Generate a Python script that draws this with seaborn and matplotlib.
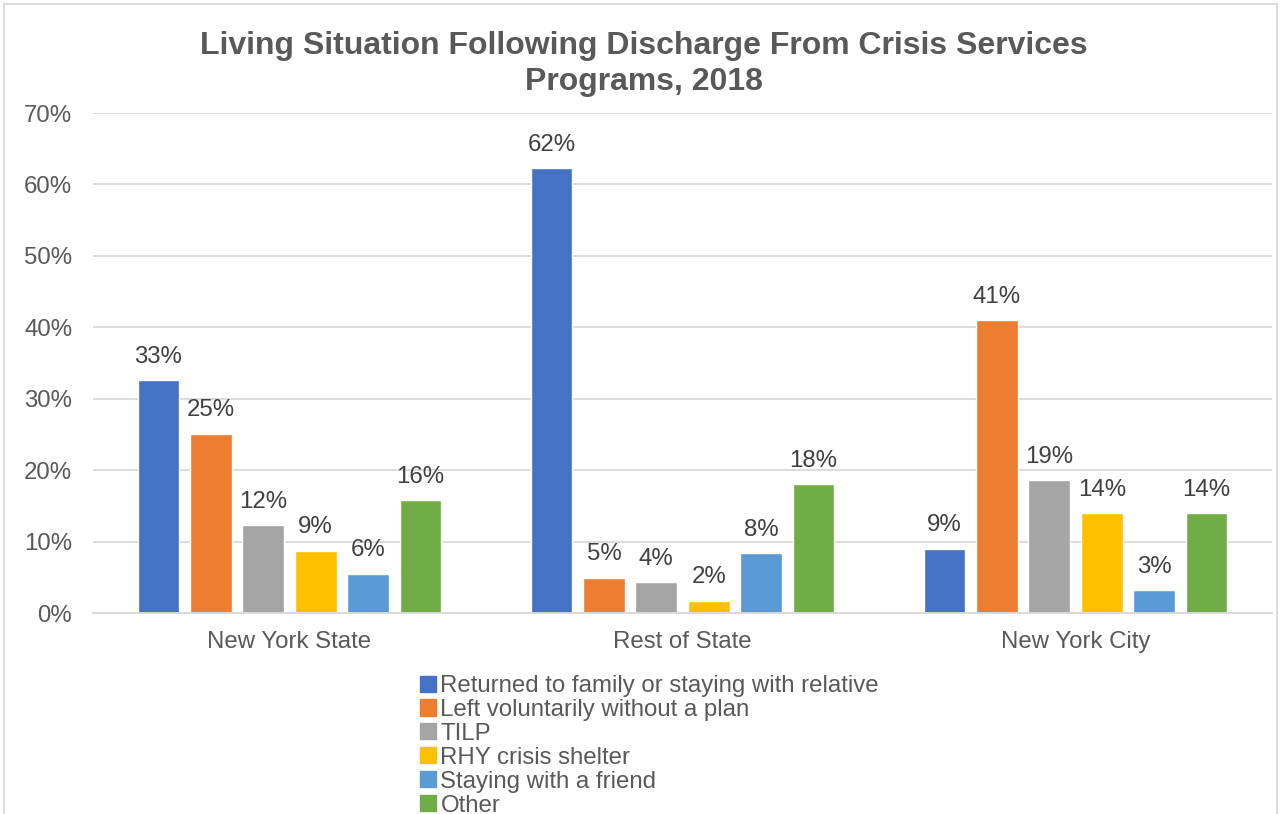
import pandas as pd
import matplotlib.pyplot as plt
import numpy as np
import seaborn as sns
from matplotlib.patches import Rectangle
from matplotlib.ticker import PercentFormatter

regions = ["New York State", "Rest of State", "New York City"]
situations = ["Returned to family or staying with relative", "Left voluntarily without a plan",
              "TILP", "RHY crisis shelter", "Staying with a friend", "Other"]
nys = [32.6, 25.1, 12.3, 8.7, 5.5, 15.8]
rest = [62.3, 4.9, 4.3, 1.7, 8.4, 18.0]
nyc = [9.0, 41.0, 18.6, 14.0, 3.2, 14.0]
colors = ["#4472C4", "#ED7D31", "#A5A5A5", "#FFC000", "#5B9BD5", "#70AD47"]

rows = []
for region, vals in zip(regions, [nys, rest, nyc]):
    for sit, v in zip(situations, vals):
        rows.append({"region": region, "situation": sit, "pct": v})
df = pd.DataFrame(rows)

sns.set_style("white")
plt.rcParams['font.family'] = ['Liberation Sans', 'DejaVu Sans']

fig = plt.figure(figsize=(12.81, 8.14), dpi=100)
ax = fig.add_axes([93 / 1281, 1 - 613 / 814, (1272 - 93) / 1281, 500 / 814])

sns.barplot(data=df, x="region", y="pct", hue="situation", hue_order=situations,
            palette=colors, width=0.8, gap=0.2, ax=ax, saturation=1, errorbar=None)

for c in ax.containers:
    ax.bar_label(c, labels=[f"{v:.0f}%" for v in c.datavalues], padding=9,
                 fontsize=17.3, color="#404040")

ax.set_ylim(0, 70)
ax.set_yticks(np.arange(0, 71, 10))
ax.yaxis.set_major_formatter(PercentFormatter(decimals=0))
ax.grid(axis="y", color="#D9D9D9", linewidth=1.3)
ax.set_axisbelow(True)
for s in ["top", "right", "left"]:
    ax.spines[s].set_visible(False)
ax.spines["bottom"].set_color("#D9D9D9")
ax.spines["bottom"].set_linewidth(1.3)
ax.tick_params(axis="both", length=0, labelsize=17.3, labelcolor="#595959")
ax.tick_params(axis="y", pad=15)
ax.tick_params(axis="x", pad=13)
ax.set_xlabel("")
ax.set_ylabel("")

fig.suptitle("Living Situation Following Discharge From Crisis Services\nPrograms, 2018",
             x=644 / 1281, y=1 - 31 / 814, fontsize=23, fontweight="bold",
             color="#595959", linespacing=1.25)

ax.legend_.remove()
handles = [Rectangle((0, 0), 1, 1, color=c) for c in colors]
fig.legend(handles, situations, loc="upper left", bbox_to_anchor=(420 / 1281, 1 - 675 / 814),
           frameon=False, fontsize=17.3, handlelength=0.65, handleheight=0.65,
           handletextpad=0.2, labelspacing=0.08, labelcolor="#595959", borderaxespad=0,
           borderpad=0)

fig.patches.append(Rectangle((4 / 1281, -0.01), 1273 / 1281, 1 - 4 / 814 + 0.01,
                             transform=fig.transFigure, fill=False,
                             edgecolor="#D9D9D9", linewidth=1.3))

plt.savefig("out.png", dpi=100)
